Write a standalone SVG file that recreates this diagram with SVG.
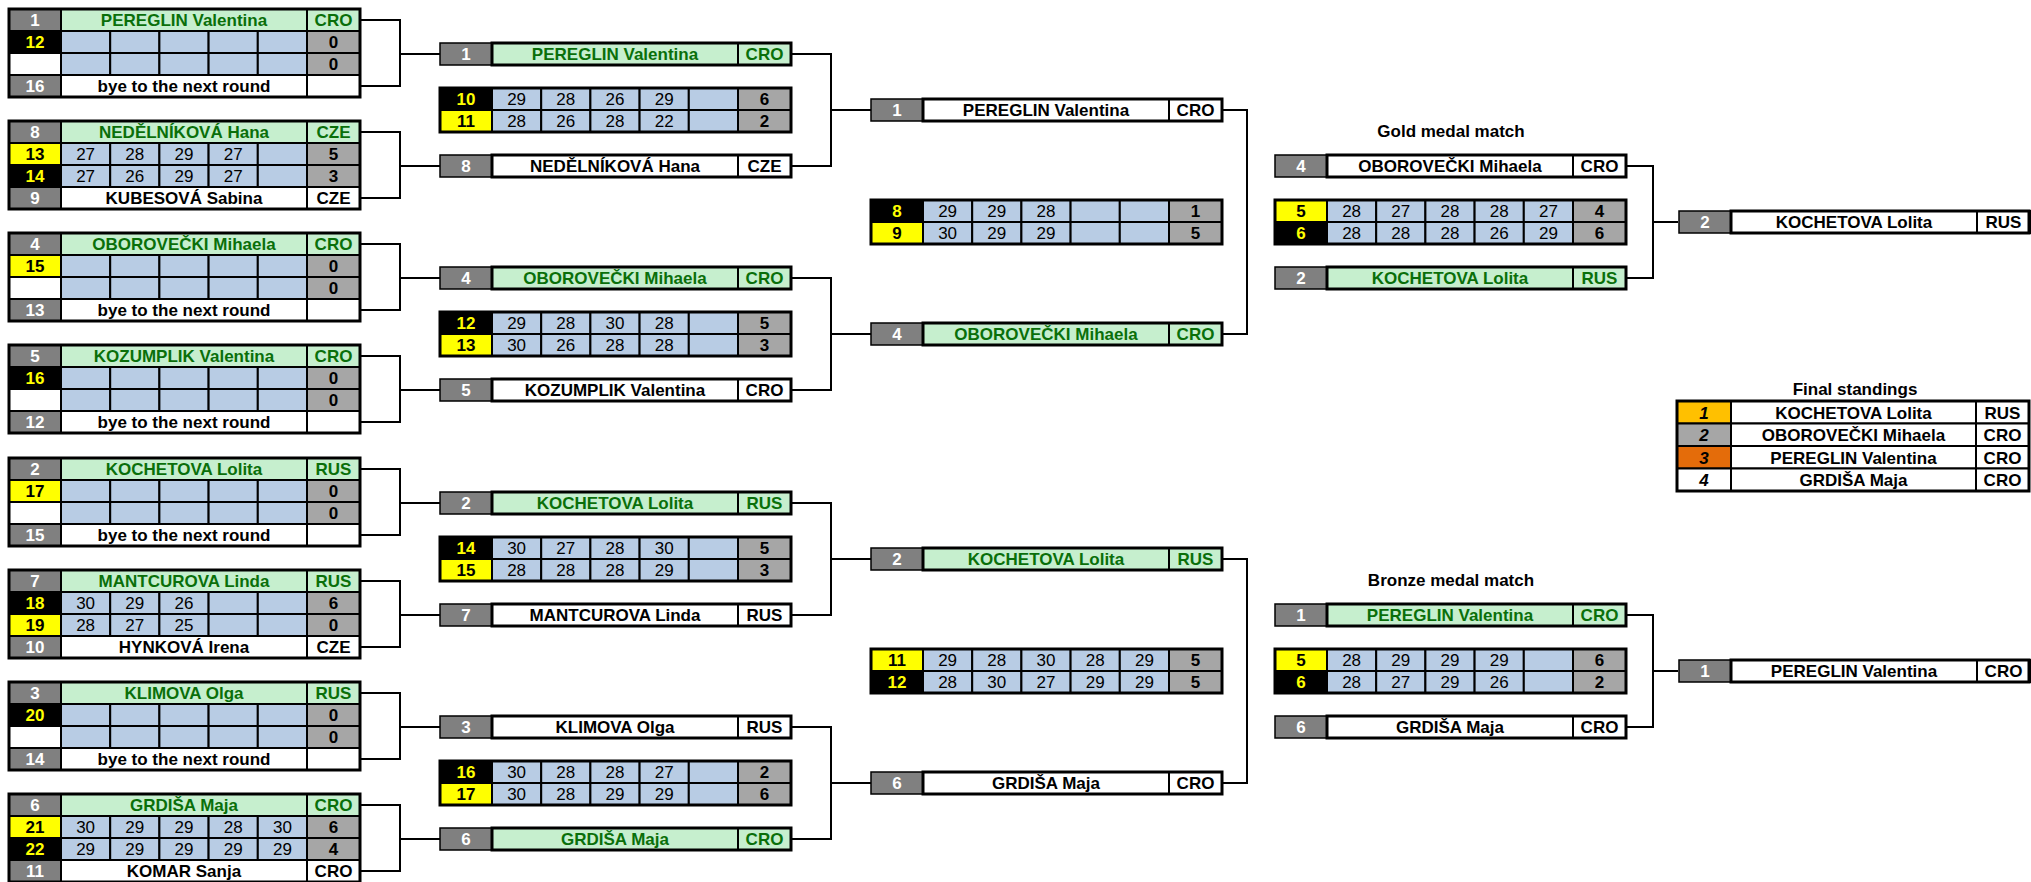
<svg xmlns="http://www.w3.org/2000/svg" width="2031" height="882" viewBox="0 0 2031 882">
<style>
.c{stroke:#000;stroke-width:2}
.sd{fill:#808080}
.gr{fill:#C6EFCE}
.wh{fill:#fff}
.bl{fill:#B8CCE4}
.tt{fill:#A6A6A6}
.yk{fill:#FFFF00}
.bk{fill:#000}
.go{fill:#FFC000}
.or{fill:#E46C0A}
.es{stroke-width:1.5}
.ob{fill:none;stroke:#000;stroke-width:3}
.ln{fill:none;stroke:#000;stroke-width:2}
text{font-family:"Liberation Sans",Arial,sans-serif;font-size:17px;font-weight:bold;text-anchor:middle;fill:#000}
text.tw{fill:#fff}
text.tg{fill:#0A6F0A}
text.ty{fill:#FFFF00}
text.n{font-weight:normal}
text.it{font-style:italic}
</style>
<defs>
<g id="srow">
<rect class="c bl" x="0" y="0" width="49.2" height="22"/>
<rect class="c bl" x="49.2" y="0" width="49.2" height="22"/>
<rect class="c bl" x="98.4" y="0" width="49.2" height="22"/>
<rect class="c bl" x="147.6" y="0" width="49.2" height="22"/>
<rect class="c bl" x="196.8" y="0" width="49.2" height="22"/>
<rect class="c tt" x="246" y="0" width="53" height="22"/>
</g>
</defs>

<g id="connectors">
<path class="ln" d="M360,20H400V86H360M400,54H440"/>
<path class="ln" d="M360,132H400V198H360M400,166H440"/>
<path class="ln" d="M360,244H400V310H360M400,278H440"/>
<path class="ln" d="M360,356H400V422H360M400,390H440"/>
<path class="ln" d="M360,469H400V535H360M400,503H440"/>
<path class="ln" d="M360,581H400V647H360M400,615H440"/>
<path class="ln" d="M360,693H400V759H360M400,727H440"/>
<path class="ln" d="M360,805H400V871H360M400,839H440"/>
<path class="ln" d="M791,54H831V166H791M831,110H871"/>
<path class="ln" d="M791,278H831V390H791M831,334H871"/>
<path class="ln" d="M791,503H831V615H791M831,559H871"/>
<path class="ln" d="M791,727H831V839H791M831,783H871"/>
<path class="ln" d="M1222,110H1247V334H1222"/>
<path class="ln" d="M1222,559H1247V783H1222"/>
<path class="ln" d="M1626,166H1653V278H1626M1653,222H1678"/>
<path class="ln" d="M1626,615H1653V727H1626M1653,671H1678"/>
</g>

<!-- Round 1 -->
<g id="r1-m1" transform="translate(61,9)">
<rect class="c sd" x="-52" y="0" width="52" height="22"/>
<rect class="c bk" x="-52" y="22" width="52" height="22"/>
<rect class="c wh" x="-52" y="44" width="52" height="22"/>
<rect class="c sd" x="-52" y="66" width="52" height="22"/>
<rect class="c gr" x="0" y="0" width="246" height="22"/>
<rect class="c gr" x="246" y="0" width="53" height="22"/>
<use href="#srow" x="0" y="22"/>
<use href="#srow" x="0" y="44"/>
<rect class="c wh" x="0" y="66" width="246" height="22"/>
<rect class="c wh" x="246" y="66" width="53" height="22"/>
<rect class="ob" x="-52" y="0" width="351" height="88"/>
<text class="tw" x="-26" y="17">1</text>
<text class="ty" x="-26" y="39">12</text>
<text class="tw" x="-26" y="83">16</text>
<text class="tg" x="123" y="17">PEREGLIN Valentina</text>
<text class="tg" x="272.5" y="17">CRO</text>
<text x="272.5" y="39">0</text>
<text x="272.5" y="61">0</text>
<text x="123" y="83">bye to the next round</text>
</g>

<g id="r1-m2" transform="translate(61,121)">
<rect class="c sd" x="-52" y="0" width="52" height="22"/>
<rect class="c yk" x="-52" y="22" width="52" height="22"/>
<rect class="c bk" x="-52" y="44" width="52" height="22"/>
<rect class="c sd" x="-52" y="66" width="52" height="22"/>
<rect class="c gr" x="0" y="0" width="246" height="22"/>
<rect class="c gr" x="246" y="0" width="53" height="22"/>
<use href="#srow" x="0" y="22"/>
<use href="#srow" x="0" y="44"/>
<rect class="c wh" x="0" y="66" width="246" height="22"/>
<rect class="c wh" x="246" y="66" width="53" height="22"/>
<rect class="ob" x="-52" y="0" width="351" height="88"/>
<text class="tw" x="-26" y="17">8</text>
<text x="-26" y="39">13</text>
<text class="ty" x="-26" y="61">14</text>
<text class="tw" x="-26" y="83">9</text>
<text class="tg" x="123" y="17">NEDĚLNÍKOVÁ Hana</text>
<text class="tg" x="272.5" y="17">CZE</text>
<text class="n" x="24.6" y="39">27</text>
<text class="n" x="73.8" y="39">28</text>
<text class="n" x="123" y="39">29</text>
<text class="n" x="172.2" y="39">27</text>
<text x="272.5" y="39">5</text>
<text class="n" x="24.6" y="61">27</text>
<text class="n" x="73.8" y="61">26</text>
<text class="n" x="123" y="61">29</text>
<text class="n" x="172.2" y="61">27</text>
<text x="272.5" y="61">3</text>
<text x="123" y="83">KUBESOVÁ Sabina</text>
<text x="272.5" y="83">CZE</text>
</g>

<g id="r1-m3" transform="translate(61,233)">
<rect class="c sd" x="-52" y="0" width="52" height="22"/>
<rect class="c yk" x="-52" y="22" width="52" height="22"/>
<rect class="c wh" x="-52" y="44" width="52" height="22"/>
<rect class="c sd" x="-52" y="66" width="52" height="22"/>
<rect class="c gr" x="0" y="0" width="246" height="22"/>
<rect class="c gr" x="246" y="0" width="53" height="22"/>
<use href="#srow" x="0" y="22"/>
<use href="#srow" x="0" y="44"/>
<rect class="c wh" x="0" y="66" width="246" height="22"/>
<rect class="c wh" x="246" y="66" width="53" height="22"/>
<rect class="ob" x="-52" y="0" width="351" height="88"/>
<text class="tw" x="-26" y="17">4</text>
<text x="-26" y="39">15</text>
<text class="tw" x="-26" y="83">13</text>
<text class="tg" x="123" y="17">OBOROVEČKI Mihaela</text>
<text class="tg" x="272.5" y="17">CRO</text>
<text x="272.5" y="39">0</text>
<text x="272.5" y="61">0</text>
<text x="123" y="83">bye to the next round</text>
</g>

<g id="r1-m4" transform="translate(61,345)">
<rect class="c sd" x="-52" y="0" width="52" height="22"/>
<rect class="c bk" x="-52" y="22" width="52" height="22"/>
<rect class="c wh" x="-52" y="44" width="52" height="22"/>
<rect class="c sd" x="-52" y="66" width="52" height="22"/>
<rect class="c gr" x="0" y="0" width="246" height="22"/>
<rect class="c gr" x="246" y="0" width="53" height="22"/>
<use href="#srow" x="0" y="22"/>
<use href="#srow" x="0" y="44"/>
<rect class="c wh" x="0" y="66" width="246" height="22"/>
<rect class="c wh" x="246" y="66" width="53" height="22"/>
<rect class="ob" x="-52" y="0" width="351" height="88"/>
<text class="tw" x="-26" y="17">5</text>
<text class="ty" x="-26" y="39">16</text>
<text class="tw" x="-26" y="83">12</text>
<text class="tg" x="123" y="17">KOZUMPLIK Valentina</text>
<text class="tg" x="272.5" y="17">CRO</text>
<text x="272.5" y="39">0</text>
<text x="272.5" y="61">0</text>
<text x="123" y="83">bye to the next round</text>
</g>

<g id="r1-m5" transform="translate(61,458)">
<rect class="c sd" x="-52" y="0" width="52" height="22"/>
<rect class="c yk" x="-52" y="22" width="52" height="22"/>
<rect class="c wh" x="-52" y="44" width="52" height="22"/>
<rect class="c sd" x="-52" y="66" width="52" height="22"/>
<rect class="c gr" x="0" y="0" width="246" height="22"/>
<rect class="c gr" x="246" y="0" width="53" height="22"/>
<use href="#srow" x="0" y="22"/>
<use href="#srow" x="0" y="44"/>
<rect class="c wh" x="0" y="66" width="246" height="22"/>
<rect class="c wh" x="246" y="66" width="53" height="22"/>
<rect class="ob" x="-52" y="0" width="351" height="88"/>
<text class="tw" x="-26" y="17">2</text>
<text x="-26" y="39">17</text>
<text class="tw" x="-26" y="83">15</text>
<text class="tg" x="123" y="17">KOCHETOVA Lolita</text>
<text class="tg" x="272.5" y="17">RUS</text>
<text x="272.5" y="39">0</text>
<text x="272.5" y="61">0</text>
<text x="123" y="83">bye to the next round</text>
</g>

<g id="r1-m6" transform="translate(61,570)">
<rect class="c sd" x="-52" y="0" width="52" height="22"/>
<rect class="c bk" x="-52" y="22" width="52" height="22"/>
<rect class="c yk" x="-52" y="44" width="52" height="22"/>
<rect class="c sd" x="-52" y="66" width="52" height="22"/>
<rect class="c gr" x="0" y="0" width="246" height="22"/>
<rect class="c gr" x="246" y="0" width="53" height="22"/>
<use href="#srow" x="0" y="22"/>
<use href="#srow" x="0" y="44"/>
<rect class="c wh" x="0" y="66" width="246" height="22"/>
<rect class="c wh" x="246" y="66" width="53" height="22"/>
<rect class="ob" x="-52" y="0" width="351" height="88"/>
<text class="tw" x="-26" y="17">7</text>
<text class="ty" x="-26" y="39">18</text>
<text x="-26" y="61">19</text>
<text class="tw" x="-26" y="83">10</text>
<text class="tg" x="123" y="17">MANTCUROVA Linda</text>
<text class="tg" x="272.5" y="17">RUS</text>
<text class="n" x="24.6" y="39">30</text>
<text class="n" x="73.8" y="39">29</text>
<text class="n" x="123" y="39">26</text>
<text x="272.5" y="39">6</text>
<text class="n" x="24.6" y="61">28</text>
<text class="n" x="73.8" y="61">27</text>
<text class="n" x="123" y="61">25</text>
<text x="272.5" y="61">0</text>
<text x="123" y="83">HYNKOVÁ Irena</text>
<text x="272.5" y="83">CZE</text>
</g>

<g id="r1-m7" transform="translate(61,682)">
<rect class="c sd" x="-52" y="0" width="52" height="22"/>
<rect class="c bk" x="-52" y="22" width="52" height="22"/>
<rect class="c wh" x="-52" y="44" width="52" height="22"/>
<rect class="c sd" x="-52" y="66" width="52" height="22"/>
<rect class="c gr" x="0" y="0" width="246" height="22"/>
<rect class="c gr" x="246" y="0" width="53" height="22"/>
<use href="#srow" x="0" y="22"/>
<use href="#srow" x="0" y="44"/>
<rect class="c wh" x="0" y="66" width="246" height="22"/>
<rect class="c wh" x="246" y="66" width="53" height="22"/>
<rect class="ob" x="-52" y="0" width="351" height="88"/>
<text class="tw" x="-26" y="17">3</text>
<text class="ty" x="-26" y="39">20</text>
<text class="tw" x="-26" y="83">14</text>
<text class="tg" x="123" y="17">KLIMOVA Olga</text>
<text class="tg" x="272.5" y="17">RUS</text>
<text x="272.5" y="39">0</text>
<text x="272.5" y="61">0</text>
<text x="123" y="83">bye to the next round</text>
</g>

<g id="r1-m8" transform="translate(61,794)">
<rect class="c sd" x="-52" y="0" width="52" height="22"/>
<rect class="c yk" x="-52" y="22" width="52" height="22"/>
<rect class="c bk" x="-52" y="44" width="52" height="22"/>
<rect class="c sd" x="-52" y="66" width="52" height="22"/>
<rect class="c gr" x="0" y="0" width="246" height="22"/>
<rect class="c gr" x="246" y="0" width="53" height="22"/>
<use href="#srow" x="0" y="22"/>
<use href="#srow" x="0" y="44"/>
<rect class="c wh" x="0" y="66" width="246" height="22"/>
<rect class="c wh" x="246" y="66" width="53" height="22"/>
<rect class="ob" x="-52" y="0" width="351" height="88"/>
<text class="tw" x="-26" y="17">6</text>
<text x="-26" y="39">21</text>
<text class="ty" x="-26" y="61">22</text>
<text class="tw" x="-26" y="83">11</text>
<text class="tg" x="123" y="17">GRDIŠA Maja</text>
<text class="tg" x="272.5" y="17">CRO</text>
<text class="n" x="24.6" y="39">30</text>
<text class="n" x="73.8" y="39">29</text>
<text class="n" x="123" y="39">29</text>
<text class="n" x="172.2" y="39">28</text>
<text class="n" x="221.4" y="39">30</text>
<text x="272.5" y="39">6</text>
<text class="n" x="24.6" y="61">29</text>
<text class="n" x="73.8" y="61">29</text>
<text class="n" x="123" y="61">29</text>
<text class="n" x="172.2" y="61">29</text>
<text class="n" x="221.4" y="61">29</text>
<text x="272.5" y="61">4</text>
<text x="123" y="83">KOMAR Sanja</text>
<text x="272.5" y="83">CRO</text>
</g>

<!-- Round 2 -->
<g id="r2-e1" transform="translate(492,54)">
<rect class="c sd es" x="-52" y="-11" width="52" height="22"/>
<rect class="c gr" x="0" y="-11" width="246" height="22"/>
<rect class="c gr" x="246" y="-11" width="53" height="22"/>
<rect class="ob" x="0" y="-11" width="299" height="22"/>
<text class="tw" x="-26" y="6">1</text>
<text class="tg" x="123" y="6">PEREGLIN Valentina</text>
<text class="tg" x="272.5" y="6">CRO</text>
</g>
<g id="r2-s1" transform="translate(492,110)">
<rect class="c bk" x="-52" y="-22" width="52" height="22"/>
<rect class="c yk" x="-52" y="0" width="52" height="22"/>
<use href="#srow" x="0" y="-22"/>
<use href="#srow" x="0" y="0"/>
<rect class="ob" x="-52" y="-22" width="351" height="44"/>
<text class="ty" x="-26" y="-5">10</text>
<text x="-26" y="17">11</text>
<text class="n" x="24.6" y="-5">29</text>
<text class="n" x="73.8" y="-5">28</text>
<text class="n" x="123" y="-5">26</text>
<text class="n" x="172.2" y="-5">29</text>
<text x="272.5" y="-5">6</text>
<text class="n" x="24.6" y="17">28</text>
<text class="n" x="73.8" y="17">26</text>
<text class="n" x="123" y="17">28</text>
<text class="n" x="172.2" y="17">22</text>
<text x="272.5" y="17">2</text>
</g>
<g id="r2-e2" transform="translate(492,166)">
<rect class="c sd es" x="-52" y="-11" width="52" height="22"/>
<rect class="c wh" x="0" y="-11" width="246" height="22"/>
<rect class="c wh" x="246" y="-11" width="53" height="22"/>
<rect class="ob" x="0" y="-11" width="299" height="22"/>
<text class="tw" x="-26" y="6">8</text>
<text x="123" y="6">NEDĚLNÍKOVÁ Hana</text>
<text x="272.5" y="6">CZE</text>
</g>

<g id="r2-e3" transform="translate(492,278)">
<rect class="c sd es" x="-52" y="-11" width="52" height="22"/>
<rect class="c gr" x="0" y="-11" width="246" height="22"/>
<rect class="c gr" x="246" y="-11" width="53" height="22"/>
<rect class="ob" x="0" y="-11" width="299" height="22"/>
<text class="tw" x="-26" y="6">4</text>
<text class="tg" x="123" y="6">OBOROVEČKI Mihaela</text>
<text class="tg" x="272.5" y="6">CRO</text>
</g>
<g id="r2-s2" transform="translate(492,334)">
<rect class="c bk" x="-52" y="-22" width="52" height="22"/>
<rect class="c yk" x="-52" y="0" width="52" height="22"/>
<use href="#srow" x="0" y="-22"/>
<use href="#srow" x="0" y="0"/>
<rect class="ob" x="-52" y="-22" width="351" height="44"/>
<text class="ty" x="-26" y="-5">12</text>
<text x="-26" y="17">13</text>
<text class="n" x="24.6" y="-5">29</text>
<text class="n" x="73.8" y="-5">28</text>
<text class="n" x="123" y="-5">30</text>
<text class="n" x="172.2" y="-5">28</text>
<text x="272.5" y="-5">5</text>
<text class="n" x="24.6" y="17">30</text>
<text class="n" x="73.8" y="17">26</text>
<text class="n" x="123" y="17">28</text>
<text class="n" x="172.2" y="17">28</text>
<text x="272.5" y="17">3</text>
</g>
<g id="r2-e4" transform="translate(492,390)">
<rect class="c sd es" x="-52" y="-11" width="52" height="22"/>
<rect class="c wh" x="0" y="-11" width="246" height="22"/>
<rect class="c wh" x="246" y="-11" width="53" height="22"/>
<rect class="ob" x="0" y="-11" width="299" height="22"/>
<text class="tw" x="-26" y="6">5</text>
<text x="123" y="6">KOZUMPLIK Valentina</text>
<text x="272.5" y="6">CRO</text>
</g>

<g id="r2-e5" transform="translate(492,503)">
<rect class="c sd es" x="-52" y="-11" width="52" height="22"/>
<rect class="c gr" x="0" y="-11" width="246" height="22"/>
<rect class="c gr" x="246" y="-11" width="53" height="22"/>
<rect class="ob" x="0" y="-11" width="299" height="22"/>
<text class="tw" x="-26" y="6">2</text>
<text class="tg" x="123" y="6">KOCHETOVA Lolita</text>
<text class="tg" x="272.5" y="6">RUS</text>
</g>
<g id="r2-s3" transform="translate(492,559)">
<rect class="c bk" x="-52" y="-22" width="52" height="22"/>
<rect class="c yk" x="-52" y="0" width="52" height="22"/>
<use href="#srow" x="0" y="-22"/>
<use href="#srow" x="0" y="0"/>
<rect class="ob" x="-52" y="-22" width="351" height="44"/>
<text class="ty" x="-26" y="-5">14</text>
<text x="-26" y="17">15</text>
<text class="n" x="24.6" y="-5">30</text>
<text class="n" x="73.8" y="-5">27</text>
<text class="n" x="123" y="-5">28</text>
<text class="n" x="172.2" y="-5">30</text>
<text x="272.5" y="-5">5</text>
<text class="n" x="24.6" y="17">28</text>
<text class="n" x="73.8" y="17">28</text>
<text class="n" x="123" y="17">28</text>
<text class="n" x="172.2" y="17">29</text>
<text x="272.5" y="17">3</text>
</g>
<g id="r2-e6" transform="translate(492,615)">
<rect class="c sd es" x="-52" y="-11" width="52" height="22"/>
<rect class="c wh" x="0" y="-11" width="246" height="22"/>
<rect class="c wh" x="246" y="-11" width="53" height="22"/>
<rect class="ob" x="0" y="-11" width="299" height="22"/>
<text class="tw" x="-26" y="6">7</text>
<text x="123" y="6">MANTCUROVA Linda</text>
<text x="272.5" y="6">RUS</text>
</g>

<g id="r2-e7" transform="translate(492,727)">
<rect class="c sd es" x="-52" y="-11" width="52" height="22"/>
<rect class="c wh" x="0" y="-11" width="246" height="22"/>
<rect class="c wh" x="246" y="-11" width="53" height="22"/>
<rect class="ob" x="0" y="-11" width="299" height="22"/>
<text class="tw" x="-26" y="6">3</text>
<text x="123" y="6">KLIMOVA Olga</text>
<text x="272.5" y="6">RUS</text>
</g>
<g id="r2-s4" transform="translate(492,783)">
<rect class="c bk" x="-52" y="-22" width="52" height="22"/>
<rect class="c yk" x="-52" y="0" width="52" height="22"/>
<use href="#srow" x="0" y="-22"/>
<use href="#srow" x="0" y="0"/>
<rect class="ob" x="-52" y="-22" width="351" height="44"/>
<text class="ty" x="-26" y="-5">16</text>
<text x="-26" y="17">17</text>
<text class="n" x="24.6" y="-5">30</text>
<text class="n" x="73.8" y="-5">28</text>
<text class="n" x="123" y="-5">28</text>
<text class="n" x="172.2" y="-5">27</text>
<text x="272.5" y="-5">2</text>
<text class="n" x="24.6" y="17">30</text>
<text class="n" x="73.8" y="17">28</text>
<text class="n" x="123" y="17">29</text>
<text class="n" x="172.2" y="17">29</text>
<text x="272.5" y="17">6</text>
</g>
<g id="r2-e8" transform="translate(492,839)">
<rect class="c sd es" x="-52" y="-11" width="52" height="22"/>
<rect class="c gr" x="0" y="-11" width="246" height="22"/>
<rect class="c gr" x="246" y="-11" width="53" height="22"/>
<rect class="ob" x="0" y="-11" width="299" height="22"/>
<text class="tw" x="-26" y="6">6</text>
<text class="tg" x="123" y="6">GRDIŠA Maja</text>
<text class="tg" x="272.5" y="6">CRO</text>
</g>

<!-- Round 3 (semifinals) -->
<g id="r3-e1" transform="translate(923,110)">
<rect class="c sd es" x="-52" y="-11" width="52" height="22"/>
<rect class="c wh" x="0" y="-11" width="246" height="22"/>
<rect class="c wh" x="246" y="-11" width="53" height="22"/>
<rect class="ob" x="0" y="-11" width="299" height="22"/>
<text class="tw" x="-26" y="6">1</text>
<text x="123" y="6">PEREGLIN Valentina</text>
<text x="272.5" y="6">CRO</text>
</g>
<g id="r3-s1" transform="translate(923,222)">
<rect class="c bk" x="-52" y="-22" width="52" height="22"/>
<rect class="c yk" x="-52" y="0" width="52" height="22"/>
<use href="#srow" x="0" y="-22"/>
<use href="#srow" x="0" y="0"/>
<rect class="ob" x="-52" y="-22" width="351" height="44"/>
<text class="ty" x="-26" y="-5">8</text>
<text x="-26" y="17">9</text>
<text class="n" x="24.6" y="-5">29</text>
<text class="n" x="73.8" y="-5">29</text>
<text class="n" x="123" y="-5">28</text>
<text x="272.5" y="-5">1</text>
<text class="n" x="24.6" y="17">30</text>
<text class="n" x="73.8" y="17">29</text>
<text class="n" x="123" y="17">29</text>
<text x="272.5" y="17">5</text>
</g>
<g id="r3-e2" transform="translate(923,334)">
<rect class="c sd es" x="-52" y="-11" width="52" height="22"/>
<rect class="c gr" x="0" y="-11" width="246" height="22"/>
<rect class="c gr" x="246" y="-11" width="53" height="22"/>
<rect class="ob" x="0" y="-11" width="299" height="22"/>
<text class="tw" x="-26" y="6">4</text>
<text class="tg" x="123" y="6">OBOROVEČKI Mihaela</text>
<text class="tg" x="272.5" y="6">CRO</text>
</g>

<g id="r3-e3" transform="translate(923,559)">
<rect class="c sd es" x="-52" y="-11" width="52" height="22"/>
<rect class="c gr" x="0" y="-11" width="246" height="22"/>
<rect class="c gr" x="246" y="-11" width="53" height="22"/>
<rect class="ob" x="0" y="-11" width="299" height="22"/>
<text class="tw" x="-26" y="6">2</text>
<text class="tg" x="123" y="6">KOCHETOVA Lolita</text>
<text class="tg" x="272.5" y="6">RUS</text>
</g>
<g id="r3-s2" transform="translate(923,671)">
<rect class="c yk" x="-52" y="-22" width="52" height="22"/>
<rect class="c bk" x="-52" y="0" width="52" height="22"/>
<use href="#srow" x="0" y="-22"/>
<use href="#srow" x="0" y="0"/>
<rect class="ob" x="-52" y="-22" width="351" height="44"/>
<text x="-26" y="-5">11</text>
<text class="ty" x="-26" y="17">12</text>
<text class="n" x="24.6" y="-5">29</text>
<text class="n" x="73.8" y="-5">28</text>
<text class="n" x="123" y="-5">30</text>
<text class="n" x="172.2" y="-5">28</text>
<text class="n" x="221.4" y="-5">29</text>
<text x="272.5" y="-5">5</text>
<text class="n" x="24.6" y="17">28</text>
<text class="n" x="73.8" y="17">30</text>
<text class="n" x="123" y="17">27</text>
<text class="n" x="172.2" y="17">29</text>
<text class="n" x="221.4" y="17">29</text>
<text x="272.5" y="17">5</text>
</g>
<g id="r3-e4" transform="translate(923,783)">
<rect class="c sd es" x="-52" y="-11" width="52" height="22"/>
<rect class="c wh" x="0" y="-11" width="246" height="22"/>
<rect class="c wh" x="246" y="-11" width="53" height="22"/>
<rect class="ob" x="0" y="-11" width="299" height="22"/>
<text class="tw" x="-26" y="6">6</text>
<text x="123" y="6">GRDIŠA Maja</text>
<text x="272.5" y="6">CRO</text>
</g>

<!-- Gold medal match -->
<g id="gold-title"><text x="1451" y="137">Gold medal match</text></g>
<g id="gold-e1" transform="translate(1327,166)">
<rect class="c sd es" x="-52" y="-11" width="52" height="22"/>
<rect class="c wh" x="0" y="-11" width="246" height="22"/>
<rect class="c wh" x="246" y="-11" width="53" height="22"/>
<rect class="ob" x="0" y="-11" width="299" height="22"/>
<text class="tw" x="-26" y="6">4</text>
<text x="123" y="6">OBOROVEČKI Mihaela</text>
<text x="272.5" y="6">CRO</text>
</g>
<g id="gold-s" transform="translate(1327,222)">
<rect class="c yk" x="-52" y="-22" width="52" height="22"/>
<rect class="c bk" x="-52" y="0" width="52" height="22"/>
<use href="#srow" x="0" y="-22"/>
<use href="#srow" x="0" y="0"/>
<rect class="ob" x="-52" y="-22" width="351" height="44"/>
<text x="-26" y="-5">5</text>
<text class="ty" x="-26" y="17">6</text>
<text class="n" x="24.6" y="-5">28</text>
<text class="n" x="73.8" y="-5">27</text>
<text class="n" x="123" y="-5">28</text>
<text class="n" x="172.2" y="-5">28</text>
<text class="n" x="221.4" y="-5">27</text>
<text x="272.5" y="-5">4</text>
<text class="n" x="24.6" y="17">28</text>
<text class="n" x="73.8" y="17">28</text>
<text class="n" x="123" y="17">28</text>
<text class="n" x="172.2" y="17">26</text>
<text class="n" x="221.4" y="17">29</text>
<text x="272.5" y="17">6</text>
</g>
<g id="gold-e2" transform="translate(1327,278)">
<rect class="c sd es" x="-52" y="-11" width="52" height="22"/>
<rect class="c gr" x="0" y="-11" width="246" height="22"/>
<rect class="c gr" x="246" y="-11" width="53" height="22"/>
<rect class="ob" x="0" y="-11" width="299" height="22"/>
<text class="tw" x="-26" y="6">2</text>
<text class="tg" x="123" y="6">KOCHETOVA Lolita</text>
<text class="tg" x="272.5" y="6">RUS</text>
</g>
<g id="gold-winner" transform="translate(1731,222)">
<rect class="c sd es" x="-52" y="-11" width="52" height="22"/>
<rect class="c wh" x="0" y="-11" width="246" height="22"/>
<rect class="c wh" x="246" y="-11" width="53" height="22"/>
<rect class="ob" x="0" y="-11" width="298" height="22"/>
<text class="tw" x="-26" y="6">2</text>
<text x="123" y="6">KOCHETOVA Lolita</text>
<text x="272.5" y="6">RUS</text>
</g>

<!-- Bronze medal match -->
<g id="bronze-title"><text x="1451" y="586">Bronze medal match</text></g>
<g id="bronze-e1" transform="translate(1327,615)">
<rect class="c sd es" x="-52" y="-11" width="52" height="22"/>
<rect class="c gr" x="0" y="-11" width="246" height="22"/>
<rect class="c gr" x="246" y="-11" width="53" height="22"/>
<rect class="ob" x="0" y="-11" width="299" height="22"/>
<text class="tw" x="-26" y="6">1</text>
<text class="tg" x="123" y="6">PEREGLIN Valentina</text>
<text class="tg" x="272.5" y="6">CRO</text>
</g>
<g id="bronze-s" transform="translate(1327,671)">
<rect class="c yk" x="-52" y="-22" width="52" height="22"/>
<rect class="c bk" x="-52" y="0" width="52" height="22"/>
<use href="#srow" x="0" y="-22"/>
<use href="#srow" x="0" y="0"/>
<rect class="ob" x="-52" y="-22" width="351" height="44"/>
<text x="-26" y="-5">5</text>
<text class="ty" x="-26" y="17">6</text>
<text class="n" x="24.6" y="-5">28</text>
<text class="n" x="73.8" y="-5">29</text>
<text class="n" x="123" y="-5">29</text>
<text class="n" x="172.2" y="-5">29</text>
<text x="272.5" y="-5">6</text>
<text class="n" x="24.6" y="17">28</text>
<text class="n" x="73.8" y="17">27</text>
<text class="n" x="123" y="17">29</text>
<text class="n" x="172.2" y="17">26</text>
<text x="272.5" y="17">2</text>
</g>
<g id="bronze-e2" transform="translate(1327,727)">
<rect class="c sd es" x="-52" y="-11" width="52" height="22"/>
<rect class="c wh" x="0" y="-11" width="246" height="22"/>
<rect class="c wh" x="246" y="-11" width="53" height="22"/>
<rect class="ob" x="0" y="-11" width="299" height="22"/>
<text class="tw" x="-26" y="6">6</text>
<text x="123" y="6">GRDIŠA Maja</text>
<text x="272.5" y="6">CRO</text>
</g>
<g id="bronze-winner" transform="translate(1731,671)">
<rect class="c sd es" x="-52" y="-11" width="52" height="22"/>
<rect class="c wh" x="0" y="-11" width="246" height="22"/>
<rect class="c wh" x="246" y="-11" width="53" height="22"/>
<rect class="ob" x="0" y="-11" width="298" height="22"/>
<text class="tw" x="-26" y="6">1</text>
<text x="123" y="6">PEREGLIN Valentina</text>
<text x="272.5" y="6">CRO</text>
</g>

<!-- Final standings -->
<g id="standings" transform="translate(1731,401)">
<text x="124" y="-6">Final standings</text>
<rect class="c go" x="-54" y="0" width="54" height="22.5"/>
<rect class="c tt" x="-54" y="22.5" width="54" height="22.5"/>
<rect class="c or" x="-54" y="45" width="54" height="22.5"/>
<rect class="c wh" x="-54" y="67.5" width="54" height="22.5"/>
<rect class="c wh" x="0" y="0" width="245" height="22.5"/>
<rect class="c wh" x="0" y="22.5" width="245" height="22.5"/>
<rect class="c wh" x="0" y="45" width="245" height="22.5"/>
<rect class="c wh" x="0" y="67.5" width="245" height="22.5"/>
<rect class="c wh" x="245" y="0" width="53" height="22.5"/>
<rect class="c wh" x="245" y="22.5" width="53" height="22.5"/>
<rect class="c wh" x="245" y="45" width="53" height="22.5"/>
<rect class="c wh" x="245" y="67.5" width="53" height="22.5"/>
<rect class="ob" x="-54" y="0" width="352" height="90"/>
<text class="it" x="-27" y="17.5">1</text>
<text class="it" x="-27" y="40">2</text>
<text class="it" x="-27" y="62.5">3</text>
<text class="it" x="-27" y="85">4</text>
<text x="122.5" y="17.5">KOCHETOVA Lolita</text>
<text x="122.5" y="40">OBOROVEČKI Mihaela</text>
<text x="122.5" y="62.5">PEREGLIN Valentina</text>
<text x="122.5" y="85">GRDIŠA Maja</text>
<text x="271.5" y="17.5">RUS</text>
<text x="271.5" y="40">CRO</text>
<text x="271.5" y="62.5">CRO</text>
<text x="271.5" y="85">CRO</text>
</g>
</svg>
